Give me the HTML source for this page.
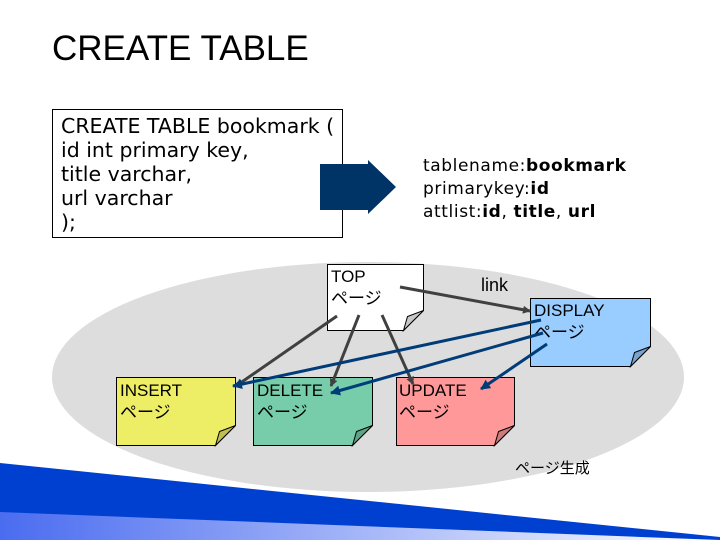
<!DOCTYPE html>
<html><head><meta charset="utf-8"><style>
body{margin:0;width:720px;height:540px;overflow:hidden;background:#fff}
svg{display:block}
text{font-family:"Liberation Sans","Noto Sans CJK JP",sans-serif}
text.dv{font-family:"DejaVu Sans","Noto Sans CJK JP",sans-serif}
</style></head><body>
<svg width="720" height="540" viewBox="0 0 720 540">
<defs>
<linearGradient id="g" x1="0" x2="1" y1="0" y2="0">
<stop offset="0" stop-color="#4a6cf0"/><stop offset="1" stop-color="#ffffff"/></linearGradient>
<marker id="ag" markerWidth="8" markerHeight="8" refX="7" refY="4" orient="auto" markerUnits="userSpaceOnUse"><path d="M0,0 L8,4 L0,8z" fill="#404040"/></marker>
<marker id="ab" markerWidth="10" markerHeight="10" refX="9" refY="5" orient="auto" markerUnits="userSpaceOnUse"><path d="M0,0 L10,5 L0,10z" fill="#003c78"/></marker>
</defs>
<polygon points="0,463 720,537 720,540 0,540" fill="#0040d0"/>
<polygon points="0,512 720,540 0,540" fill="url(#g)"/>
<text x="52" y="60" font-size="35" fill="#000">CREATE TABLE</text>
<rect x="52.5" y="109.5" width="290" height="128" fill="#fff" stroke="#000"/>
<g font-size="20.5" fill="#000">
<text class="dv" x="61" y="133">CREATE TABLE bookmark (</text>
<text class="dv" x="61" y="157">id int primary key,</text>
<text class="dv" x="61" y="181">title varchar,</text>
<text class="dv" x="61" y="205">url varchar</text>
<text class="dv" x="61" y="229">);</text>
</g>
<polygon points="320,164 368,164 368,160 396,187 368,214 368,210 320,210" fill="#003366"/>
<g font-size="17" letter-spacing="0.6">
<text class="dv" x="423" y="171">tablename:<tspan font-weight="bold">bookmark</tspan></text>
<text class="dv" x="423" y="194">primarykey:<tspan font-weight="bold">id</tspan></text>
<text class="dv" x="423" y="217">attlist:<tspan font-weight="bold">id</tspan>, <tspan font-weight="bold">title</tspan>, <tspan font-weight="bold">url</tspan></text>
</g>
<ellipse cx="368" cy="377" rx="316" ry="115" fill="#dddddd"/>
<g stroke="#000" stroke-width="1">
<path d="M327.5,264.5 h96 v46 l-20,20 h-76z" fill="#fff"/><path d="M403.5,330.5 l4,-14 l16,-6z" fill="#c8c8c8"/>
<path d="M530.5,298.5 h120 v48 l-20,20 h-100z" fill="#99ccff"/><path d="M630.5,366.5 l4,-14 l16,-6z" fill="#7aa3cc"/>
<path d="M116.5,377.5 h119 v48 l-20,20 h-99z" fill="#eeee66"/><path d="M215.5,445.5 l4,-14 l16,-6z" fill="#bebe52"/>
<path d="M253.5,377.5 h119 v48 l-20,20 h-99z" fill="#77ccaa"/><path d="M352.5,445.5 l4,-14 l16,-6z" fill="#5fa388"/>
<path d="M396.5,377.5 h118 v48 l-20,20 h-98z" fill="#ff9999"/><path d="M494.5,445.5 l4,-14 l16,-6z" fill="#cc7a7a"/>
</g>
<g font-size="17" fill="#000">
<text x="331" y="282">TOP</text><text x="331" y="304">ページ</text>
<text x="534" y="316">DISPLAY</text><text x="534" y="338">ページ</text>
<text x="120" y="396">INSERT</text><text x="120" y="418">ページ</text>
<text x="257" y="396">DELETE</text><text x="257" y="418">ページ</text>
<text x="399" y="396">UPDATE</text><text x="399" y="418">ページ</text>
<text x="481" y="291" font-size="18">link</text>
<text x="515" y="473" font-size="15">ページ生成</text>
</g>
<g stroke="#404040" stroke-width="3" fill="none">
<line x1="400" y1="287" x2="530" y2="311" marker-end="url(#ag)"/>
<line x1="337" y1="316" x2="236" y2="386" marker-end="url(#ag)"/>
<line x1="359" y1="315" x2="331" y2="386" marker-end="url(#ag)"/>
<line x1="382" y1="315" x2="413" y2="384" marker-end="url(#ag)"/>
</g>
<g stroke="#003c78" stroke-width="3" fill="none">
<line x1="541" y1="320" x2="233" y2="386" marker-end="url(#ab)"/>
<line x1="543" y1="333" x2="331" y2="393" marker-end="url(#ab)"/>
<line x1="547" y1="344" x2="481" y2="389" marker-end="url(#ab)"/>
</g>
</svg>
</body></html>
